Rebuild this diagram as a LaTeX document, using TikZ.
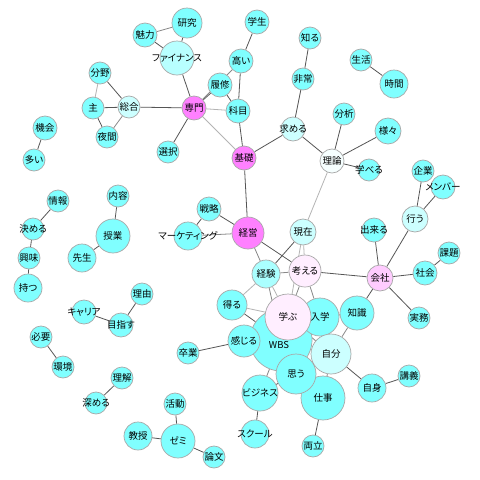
\documentclass[tikz,border=0pt]{standalone}
\usepackage{fontspec}
\newfontfamily\jp[RawFeature=+palt]{Noto Sans CJK JP}
\usetikzlibrary{backgrounds}
\definecolor{ccyan}{HTML}{80FFFF}
\definecolor{cmag}{HTML}{FF80FF}
\definecolor{clcyan}{HTML}{CCFFFF}
\definecolor{cmcyan}{HTML}{AAFFFF}
\definecolor{cfin}{HTML}{B8FFFF}
\definecolor{cpink}{HTML}{FFCCFF}
\definecolor{clpink}{HTML}{FFEEFF}
\definecolor{cwhite}{HTML}{F6FFFF}
\definecolor{cborder}{HTML}{A8A8A8}
\definecolor{edark}{HTML}{555555}
\definecolor{emid}{HTML}{888888}
\definecolor{elight}{HTML}{B4B4B4}
\tikzset{
  wnode/.style={circle, draw=cborder, line width=0.7pt, fill=ccyan, inner sep=0pt,
    minimum size=#1*2pt, font=\jp\fontsize{9.5}{11}\selectfont},
  txt/.style={inner sep=0pt, font=\jp\fontsize{9.5}{11}\selectfont},
  ed/.style={draw=edark, line width=0.8pt},
  em/.style={draw=emid, line width=0.8pt},
  el/.style={draw=elight, line width=0.8pt},
}
\newcommand{\lbl}[1]{\makebox[0pt]{#1}}
\begin{document}
\begin{tikzpicture}[x=1pt,y=-1pt]
\useasboundingbox (0,0) rectangle (480,480);
% nodes
\node[wnode=31] (wbs) at (281,340) {};
\node[wnode=19] (nyugaku) at (320,317) {\lbl{入学}};
\node[wnode=23, fill=clpink] (manabu) at (288,317) {\lbl{学ぶ}};
\node[wnode=22] (shigoto) at (323,398) {\lbl{仕事}};
\node[wnode=20, fill=clcyan] (jibun) at (331,354) {\lbl{自分}};
\node[wnode=20] (omou) at (296,374) {\lbl{思う}};
\node[wnode=16] (kanjiru) at (244,341) {\lbl{感じる}};
\node[wnode=18] (business) at (260,393) {\lbl{ビジネス}};
\node[wnode=14] (school) at (255,434) {\lbl{スクール}};
\node[wnode=11] (ryoritsu) at (313,446) {\lbl{両立}};
\node[wnode=14] (jishin) at (372,388) {\lbl{自身}};
\node[wnode=11] (kogi) at (409,376) {\lbl{講義}};
\node[wnode=17] (chishiki) at (357,313) {\lbl{知識}};
\node[wnode=15] (eru) at (232,305) {\lbl{得る}};
\node[wnode=14, fill=cmcyan] (keiken) at (266,274) {\lbl{経験}};
\node[wnode=16, fill=clpink] (kangaeru) at (305,271) {\lbl{考える}};
\node[wnode=13, fill=clcyan] (genzai) at (303,232) {\lbl{現在}};
\node[wnode=16, fill=cmag] (keiei) at (248,233) {\lbl{経営}};
\node[wnode=12] (senryaku) at (209,209) {\lbl{戦略}};
\node[wnode=14] (marketing) at (188,236) {\lbl{マーケティング}};
\node[wnode=11] (sotsugyo) at (188,353) {\lbl{卒業}};
\node[wnode=13, fill=cpink] (kaisha) at (380,278) {\lbl{会社}};
\node[wnode=12] (dekiru) at (374,230) {\lbl{出来る}};
\node[wnode=13, fill=clcyan] (okonau) at (415,219) {\lbl{行う}};
\node[wnode=11] (kigyo) at (423,171) {\lbl{企業}};
\node[wnode=12] (member) at (443,187) {\lbl{メンバー}};
\node[wnode=12] (shakai) at (425,273) {\lbl{社会}};
\node[wnode=11] (kadai) at (449,253) {\lbl{課題}};
\node[wnode=11] (jitsumu) at (419,318) {\lbl{実務}};
\node[wnode=15] (kenkyu) at (187,23) {\lbl{研究}};
\node[wnode=17, fill=cfin] (finance) at (177,58) {\lbl{ファイナンス}};
\node[wnode=12] (miryoku) at (145,35) {\lbl{魅力}};
\node[wnode=12] (gakusei) at (257,22) {\lbl{学生}};
\node[wnode=12] (takai) at (241,61) {\lbl{高い}};
\node[wnode=12] (rishu) at (220,85) {\lbl{履修}};
\node[wnode=12] (kamoku) at (238,111) {\lbl{科目}};
\node[wnode=12, fill=cmag] (senmon) at (194,108) {\lbl{専門}};
\node[wnode=11] (sentaku) at (168,152) {\lbl{選択}};
\node[wnode=12, fill=cmag] (kiso) at (244,158) {\lbl{基礎}};
\node[wnode=11] (shiru) at (310,38) {\lbl{知る}};
\node[wnode=11] (hijo) at (303,79) {\lbl{非常}};
\node[wnode=12, fill=clcyan] (motomeru) at (293,129) {\lbl{求める}};
\node[wnode=11] (bunya) at (100,73) {\lbl{分野}};
\node[wnode=11] (omo) at (93,108) {\lbl{主}};
\node[wnode=11, fill=clcyan] (sogo) at (129,107) {\lbl{総合}};
\node[wnode=11] (yakan) at (107,137) {\lbl{夜間}};
\node[wnode=12] (kikai) at (45,128) {\lbl{機会}};
\node[wnode=11] (ooi) at (34,160) {\lbl{多い}};
\node[wnode=11] (seikatsu) at (361,60) {\lbl{生活}};
\node[wnode=14] (jikan) at (394,84) {\lbl{時間}};
\node[wnode=11] (bunseki) at (344,114) {\lbl{分析}};
\node[wnode=13] (samazama) at (388,131) {\lbl{様々}};
\node[wnode=12, fill=cwhite] (riron) at (332,161) {\lbl{理論}};
\node[wnode=11] (manaberu) at (369,170) {\lbl{学べる}};
\node[wnode=11] (joho) at (58,201) {\lbl{情報}};
\node[wnode=11] (kimeru) at (33,229) {\lbl{決める}};
\node[wnode=11] (kyomi) at (29,258) {\lbl{興味}};
\node[wnode=14] (motsu) at (28,288) {\lbl{持つ}};
\node[wnode=11] (naiyo) at (118,196) {\lbl{内容}};
\node[wnode=17] (jugyo) at (113,236) {\lbl{授業}};
\node[wnode=14] (sensei) at (82,258) {\lbl{先生}};
\node[wnode=11] (riyu) at (142,294) {\lbl{理由}};
\node[wnode=12] (career) at (84,312) {\lbl{キャリア}};
\node[wnode=12] (mezasu) at (121,325) {\lbl{目指す}};
\node[wnode=11] (hitsuyo) at (41,337) {\lbl{必要}};
\node[wnode=11] (kankyo) at (63,367) {\lbl{環境}};
\node[wnode=11] (rikai) at (122,378) {\lbl{理解}};
\node[wnode=11] (fukameru) at (96,403) {\lbl{深める}};
\node[wnode=14] (kyoju) at (138,436) {\lbl{教授}};
\node[wnode=11] (katsudo) at (175,404) {\lbl{活動}};
\node[wnode=17] (zemi) at (178,441) {\lbl{ゼミ}};
\node[wnode=11] (ronbun) at (214,457) {\lbl{論文}};
\node[txt] (wbstext) at (279,345) {WBS};
% edges
\begin{scope}[on background layer]
\fill[white] (0,0) rectangle (480,480);
\draw[em] (miryoku) -- (kenkyu);
\draw[ed] (miryoku) -- (finance);
\draw[ed] (kenkyu) -- (finance);
\draw[ed] (finance) -- (senmon);
\draw[ed] (senmon) -- (sogo);
\draw[ed] (senmon) -- (rishu);
\draw[em] (senmon) -- (takai);
\draw[ed] (rishu) -- (kamoku);
\draw[el] (senmon) -- (kamoku);
\draw[ed] (takai) -- (kamoku);
\draw[ed] (takai) -- (gakusei);
\draw[ed] (senmon) -- (sentaku);
\draw[el] (senmon) -- (kiso);
\draw[ed] (kamoku) -- (kiso);
\draw[ed] (kiso) -- (motomeru);
\draw[ed] (kiso) -- (keiei);
\draw[ed] (motomeru) -- (hijo);
\draw[ed] (hijo) -- (shiru);
\draw[ed] (motomeru) -- (riron);
\draw[ed] (riron) -- (bunseki);
\draw[ed] (riron) -- (samazama);
\draw[ed] (riron) -- (manaberu);
\draw[el] (riron) -- (genzai);
\draw[ed] (seikatsu) -- (jikan);
\draw[el] (bunya) -- (omo);
\draw[ed] (bunya) -- (sogo);
\draw[ed] (omo) -- (sogo);
\draw[ed] (omo) -- (yakan);
\draw[em] (yakan) -- (sogo);
\draw[ed] (kikai) -- (ooi);
\draw[ed] (joho) -- (kimeru);
\draw[ed] (kimeru) -- (kyomi);
\draw[ed] (kyomi) -- (motsu);
\draw[ed] (naiyo) -- (jugyo);
\draw[ed] (jugyo) -- (sensei);
\draw[ed] (riyu) -- (mezasu);
\draw[ed] (career) -- (mezasu);
\draw[ed] (hitsuyo) -- (kankyo);
\draw[ed] (rikai) -- (fukameru);
\draw[ed] (kyoju) -- (zemi);
\draw[ed] (katsudo) -- (zemi);
\draw[ed] (zemi) -- (ronbun);
\draw[ed] (sotsugyo) -- (kanjiru);
\draw[ed] (senryaku) -- (keiei);
\draw[ed] (senryaku) -- (marketing);
\draw[em] (marketing) -- (keiei);
\draw[em] (keiei) -- (keiken);
\draw[ed] (keiei) -- (kangaeru);
\draw[ed] (genzai) -- (keiken);
\draw[el] (genzai) -- (kangaeru);
\draw[el] (genzai) -- (manabu);
\draw[em] (keiken) -- (kangaeru);
\draw[el] (keiken) -- (eru);
\draw[el] (keiken) -- (manabu);
\draw[em] (keiken) -- (wbs);
\draw[el] (eru) -- (manabu);
\draw[ed] (eru) -- (wbs);
\draw[ed] (kangaeru) -- (kaisha);
\draw[em] (kangaeru) -- (manabu);
\draw[em] (kangaeru) -- (nyugaku);
\draw[ed] (kaisha) -- (dekiru);
\draw[ed] (kaisha) -- (okonau);
\draw[ed] (kaisha) -- (shakai);
\draw[ed] (kaisha) -- (jitsumu);
\draw[ed] (kaisha) -- (chishiki);
\draw[ed] (okonau) -- (kigyo);
\draw[ed] (okonau) -- (member);
\draw[ed] (shakai) -- (kadai);
\draw[ed] (nyugaku) -- (chishiki);
\draw[em] (chishiki) -- (jibun);
\draw[ed] (jibun) -- (jishin);
\draw[ed] (jishin) -- (kogi);
\draw[em] (manabu) -- (nyugaku);
\draw[em] (manabu) -- (jibun);
\draw[em] (manabu) -- (wbs);
\draw[em] (manabu) -- (kanjiru);
\draw[em] (omou) -- (wbs);
\draw[em] (omou) -- (jibun);
\draw[em] (omou) -- (shigoto);
\draw[ed] (omou) -- (business);
\draw[em] (wbs) -- (business);
\draw[ed] (business) -- (school);
\draw[ed] (shigoto) -- (ryoritsu);
\draw[em] (shigoto) -- (jibun);
\draw[em] (kanjiru) -- (wbs);
\end{scope}
\end{tikzpicture}
\end{document}
